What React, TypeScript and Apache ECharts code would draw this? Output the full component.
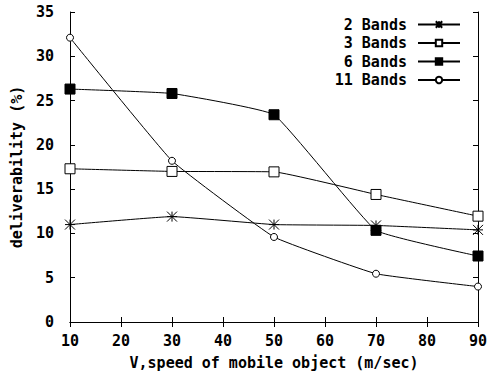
import React, { useEffect, useRef } from "react";
import * as echarts from "echarts";

const speeds = [10, 30, 50, 70, 90];
const bands2 = [11.0, 11.9, 11.0, 10.9, 10.4];
const bands3 = [17.3, 17.0, 16.95, 14.4, 11.95];
const bands6 = [26.3, 25.8, 23.4, 10.35, 7.45];
const bands11 = [32.1, 18.2, 9.6, 5.45, 4.0];

const FONT = "DejaVu Sans Mono";
const STAR = "path://M-4,0L4,0M0,-4L0,4M-4,-4L4,4M-4,4L4,-4";

const pairs = (ys: number[]) => speeds.map((x, i) => [x, ys[i]]);

export default function App() {
  const ref = useRef<HTMLDivElement>(null);
  useEffect(() => {
    const chart = echarts.init(ref.current!, undefined, { renderer: "svg" });
    const lineBase = {
      type: "line" as const,
      smooth: 0.1,
      lineStyle: { color: "#000", width: 1 },
      emphasis: { disabled: true },
    };
    const txt = { fontFamily: FONT, fontWeight: "bold" as const, fontSize: 15, color: "#000" };
    chart.setOption({
      animation: false,
      backgroundColor: "#fff",
      grid: { left: 70, right: 13, top: 12, bottom: 54 },
      legend: {
        orient: "vertical",
        right: 25,
        top: 12,
        align: "right",
        itemWidth: 42,
        itemHeight: 8,
        itemGap: 3.5,
        selectedMode: false,
        textStyle: {
          ...txt,
          width: 74,
          align: "right",
          padding: [0, 6, 0, 0],
        },
        data: ["2 Bands", "3 Bands", "6 Bands", "11 Bands"],
      },
      xAxis: [
        {
          type: "value",
          min: 10,
          max: 90,
          interval: 10,
          name: "V,speed of mobile object (m/sec)",
          nameLocation: "middle",
          nameGap: 33,
          nameTextStyle: txt,
          axisLine: { lineStyle: { color: "#000", width: 1 } },
          axisTick: { inside: true, length: 5, lineStyle: { color: "#000" } },
          axisLabel: { ...txt, margin: 11 },
          splitLine: { show: false },
        },
        {
          type: "value",
          position: "top",
          min: 10,
          max: 90,
          interval: 10,
          axisLine: { show: true, lineStyle: { color: "#000", width: 1 } },
          axisTick: { inside: true, length: 5, lineStyle: { color: "#000" } },
          axisLabel: { show: false },
          splitLine: { show: false },
        },
      ],
      yAxis: [
        {
          type: "value",
          min: 0,
          max: 35,
          interval: 5,
          name: "deliverability (%)",
          nameLocation: "middle",
          nameGap: 46,
          nameTextStyle: txt,
          axisLine: { show: true, lineStyle: { color: "#000", width: 1 } },
          axisTick: { show: true, inside: true, length: 5, lineStyle: { color: "#000" } },
          axisLabel: { ...txt, margin: 16 },
          splitLine: { show: false },
        },
        {
          type: "value",
          position: "right",
          min: 0,
          max: 35,
          interval: 5,
          axisLine: { show: true, lineStyle: { color: "#000", width: 1 } },
          axisTick: { show: true, inside: true, length: 5, lineStyle: { color: "#000" } },
          axisLabel: { show: false },
          splitLine: { show: false },
        },
      ],
      series: [
        {
          ...lineBase,
          name: "2 Bands",
          data: pairs(bands2),
          symbol: STAR,
          symbolSize: 10,
          itemStyle: { color: "#000", borderColor: "#000", borderWidth: 1 },
        },
        {
          ...lineBase,
          name: "3 Bands",
          data: pairs(bands3),
          symbol: "rect",
          symbolSize: 10,
          itemStyle: { color: "#fff", borderColor: "#000", borderWidth: 1 },
        },
        {
          ...lineBase,
          name: "6 Bands",
          data: pairs(bands6),
          symbol: "rect",
          symbolSize: 10,
          itemStyle: { color: "#000", borderColor: "#000", borderWidth: 1 },
        },
        {
          ...lineBase,
          name: "11 Bands",
          data: pairs(bands11),
          symbol: "circle",
          symbolSize: 7,
          itemStyle: { color: "#fff", borderColor: "#000", borderWidth: 1 },
        },
      ],
    });
    return () => chart.dispose();
  }, []);
  return <div ref={ref} style={{ width: 491, height: 376, position: "absolute", left: 0, top: 0 }} />;
}
